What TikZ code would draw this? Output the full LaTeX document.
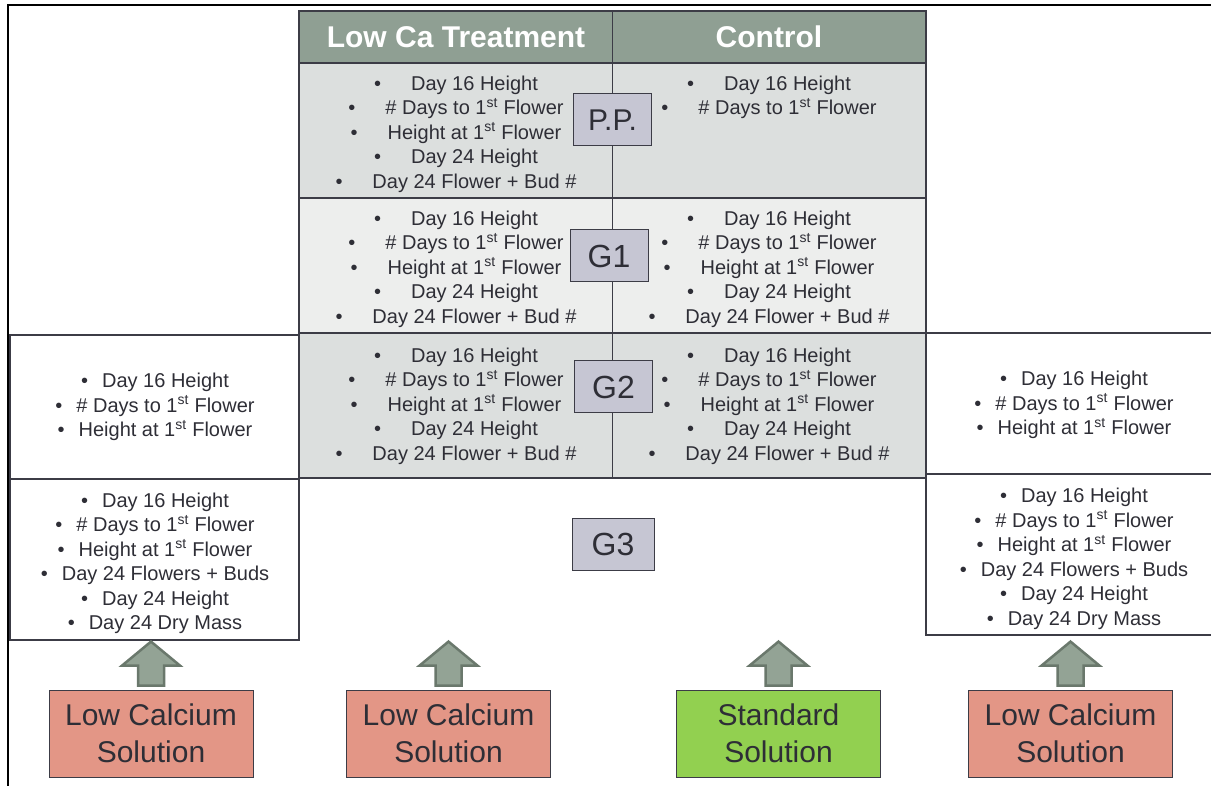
\documentclass[tikz,border=0pt]{standalone}
\usepackage{fontspec}
\setmainfont{Liberation Sans}
\usepackage{tikz}
\usetikzlibrary{calc}
\usetikzlibrary{positioning}

\definecolor{hdrgreen}{HTML}{8F9F93}
\definecolor{rowgray}{HTML}{DCDFDE}
\definecolor{rowlight}{HTML}{EDEEED}
\definecolor{taggray}{HTML}{C6C6D3}
\definecolor{edgegray}{HTML}{3C3C46}
\definecolor{txtgray}{HTML}{2E2E36}
\definecolor{lowca}{HTML}{E39686}
\definecolor{stdgreen}{HTML}{92D050}
\definecolor{arrowfill}{HTML}{93A395}
\definecolor{arrowedge}{HTML}{6A786C}

\newcommand{\fst}{1\textsuperscript{st}}
\newcommand{\itm}[1]{\textbullet\hspace{30pt}#1}
\newcommand{\sitm}[1]{\textbullet\hspace{14pt}#1}
\newcommand{\fivelist}{\itm{Day 16 Height}\\ \itm{\# Days to \fst{} Flower}\\
  \itm{Height at \fst{} Flower}\\ \itm{Day 24 Height}\\ \itm{Day 24 Flower + Bud \#}}

\tikzset{
  hdr/.style={font=\fontsize{30}{36}\selectfont\bfseries, text=white},
  cell/.style={font=\fontsize{20}{24.5}\selectfont, align=center, text=txtgray},
  tag/.style={draw=edgegray, fill=taggray, line width=1pt, minimum width=78,
    minimum height=52, font=\fontsize{32}{38}\selectfont, text=txtgray},
  solbox/.style={draw=edgegray, line width=0.8pt, minimum width=204, minimum height=87,
    align=center, font=\fontsize{30}{37}\selectfont, text=txtgray},
  blockarrow/.style={fill=arrowfill, draw=arrowedge, line width=2.5pt, line join=miter},
}

\begin{document}
\begin{tikzpicture}[x=1pt,y=-1pt,line join=miter]
        \useasboundingbox (0,0) rectangle (1211,786);
        \clip (0,0) rectangle (1211,786);
        \draw[line width=2pt] (1215,5) -- (8,5) -- (8,790);
        % 
        \fill[hdrgreen] (299,11) rectangle (926,63);
        \fill[rowgray] (299,63) rectangle (926,198);
        \fill[rowlight] (299,198) rectangle (926,333);
        \fill[rowgray] (299,333) rectangle (926,478);
        \draw[edgegray, line width=0.8pt] (612,11) -- (612,478);
        \draw[edgegray, line width=1.2pt] (299,63) -- (926,63) (299,198) -- (926,198)
          (299,333) -- (926,333);
        \draw[edgegray, line width=1.5pt] (299,11) rectangle (926,478);
        % 
        \draw[edgegray, line width=1.2pt] (10,335) rectangle (299,479);
        \draw[edgegray, line width=1.2pt] (10,479) rectangle (299,640);
        \draw[edgegray, line width=1.2pt] (926,333) rectangle (1230,474);
        \draw[edgegray, line width=1.2pt] (926,474) rectangle (1230,635);
        % 
        \node[hdr] (lowca) at (456,37) {Low Ca Treatment};
        \node[hdr] (ctrl) at (769,37) {Control};
        % 
        \node[cell] (pp1) at (456,134) {\fivelist};
        \node[cell, anchor=north] (pp2) at (pp1.north -| ctrl) {\itm{Day 16 Height}\\
          \itm{\# Days to \fst{} Flower}};
        \node[cell] (g1a) at (456,269) {\fivelist};
        \node[cell] (g1b) at (769,269) {\fivelist};
        \node[cell] (g2a) at (456,406) {\fivelist};
        \node[cell] (g2b) at (769,406) {\fivelist};
        % 
        \node[cell] (lb1) at (155,407) {\sitm{Day 16 Height}\\ \sitm{\# Days to \fst{} Flower}\\
          \sitm{Height at \fst{} Flower}};
        \node[cell] (lb2) at (155,563.5) {\sitm{Day 16 Height}\\ \sitm{\# Days to \fst{} Flower}\\
          \sitm{Height at \fst{} Flower}\\ \sitm{Day 24 Flowers + Buds}\\
          \sitm{Day 24 Height}\\ \sitm{Day 24 Dry Mass}};
        \node[cell] (rb1) at (1074,405) {\sitm{Day 16 Height}\\ \sitm{\# Days to \fst{} Flower}\\
          \sitm{Height at \fst{} Flower}};
        \node[cell] (rb2) at (1074,559) {\sitm{Day 16 Height}\\ \sitm{\# Days to \fst{} Flower}\\
          \sitm{Height at \fst{} Flower}\\ \sitm{Day 24 Flowers + Buds}\\
          \sitm{Day 24 Height}\\ \sitm{Day 24 Dry Mass}};
        % 
        \node[tag, font=\fontsize{30}{36}\selectfont] (pp) at (612.5,120) {P.P.};
        \node[tag] (g1) at (609,256) {G1};
        \node[tag] (g2) at (613.5,387) {G2};
        \node[tag, minimum width=82] (g3) at (613,544) {G3};
        % 
        \node[solbox, fill=lowca] (s1) at (151,733.5) {Low Calcium\\Solution};
        \node[solbox, fill=lowca] (s2) at (448.5,733.5) {Low Calcium\\Solution};
        \node[solbox, fill=stdgreen] (s3) at (778.5,733.5) {Standard\\Solution};
        \node[solbox, fill=lowca] (s4) at (1070.5,733.5) {Low Calcium\\Solution};
        % 
        \foreach \s in {s1,s2,s3,s4}
          \draw[blockarrow] ($(\s.north)+(-13,-4)$) -- ++(0,-20) -- ++(-16,0) -- ++(29,-24)
            -- ++(29,24) -- ++(-16,0) -- ++(0,20) -- cycle;
      \end{tikzpicture}
\end{document}
